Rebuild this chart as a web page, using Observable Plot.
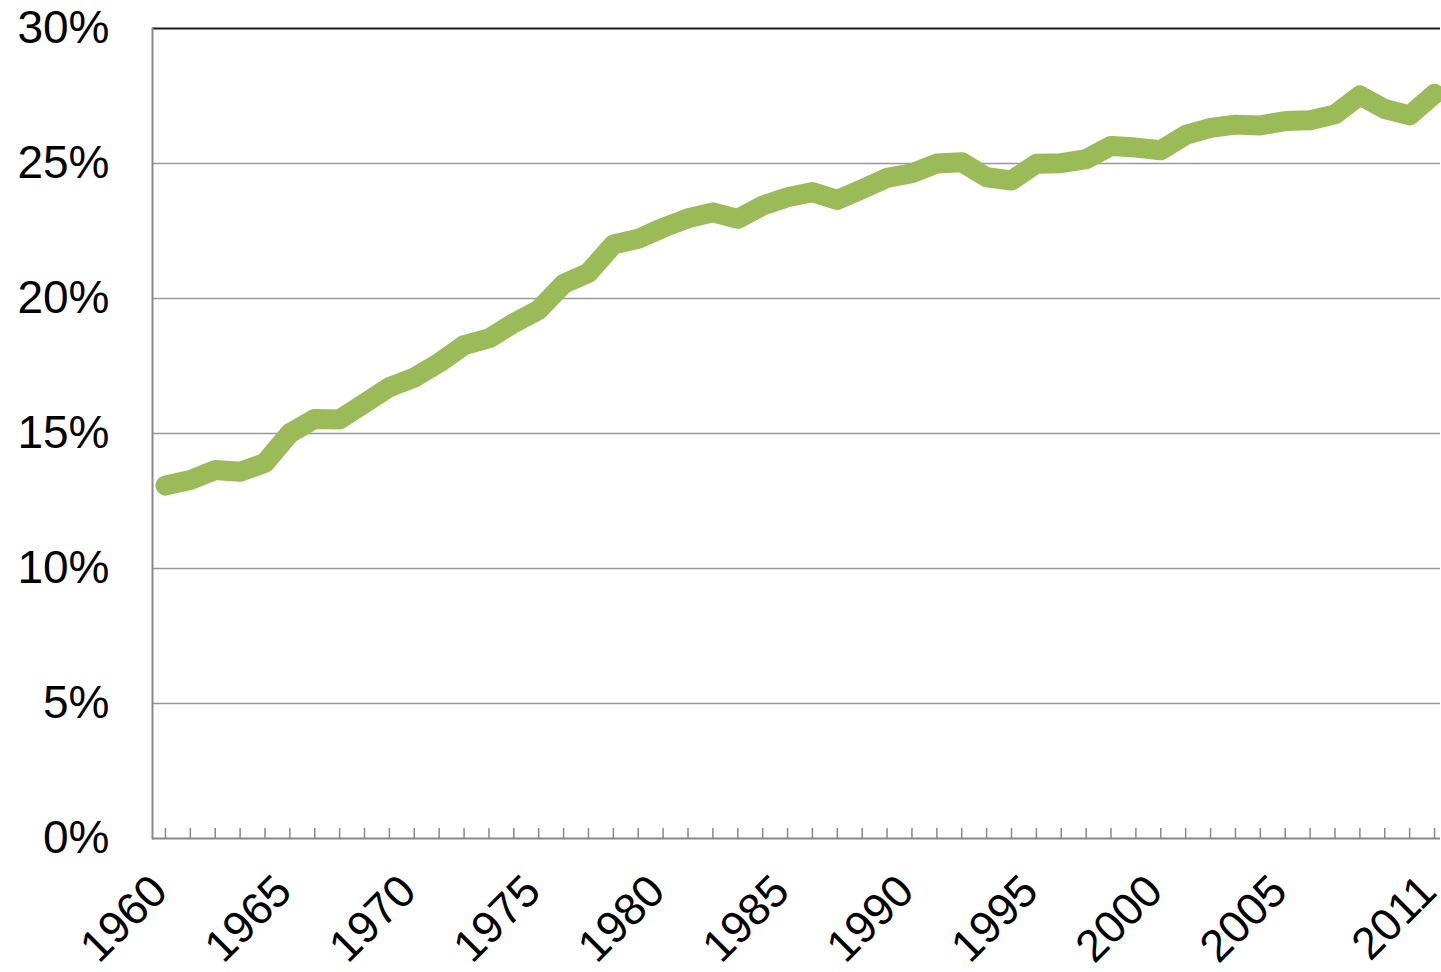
<!DOCTYPE html>
<html>
<head>
<meta charset="utf-8">
<script src="https://cdn.jsdelivr.net/npm/d3@7"></script>
<script src="https://cdn.jsdelivr.net/npm/@observablehq/plot@0.6"></script>
<style>
  html, body { margin: 0; padding: 0; background: #fff; }
  #chart { width: 1441px; height: 972px; overflow: hidden; }
</style>
</head>
<body>
<div id="chart"></div>
<script>
const years = d3.range(1960, 2012);
const values = [
  13.07, 13.28, 13.65, 13.58, 13.91, 15.01, 15.54, 15.52, 16.12, 16.72,
  17.07, 17.62, 18.27, 18.52, 19.09, 19.58, 20.54, 20.95, 22.00, 22.21,
  22.62, 22.97, 23.19, 22.95, 23.44, 23.75, 23.94, 23.65, 24.05, 24.47,
  24.64, 25.00, 25.05, 24.49, 24.37, 24.99, 25.01, 25.16, 25.65, 25.59,
  25.49, 26.06, 26.32, 26.44, 26.41, 26.57, 26.60, 26.82, 27.52, 27.02,
  26.78, 27.58
];
const yTicks = [0, 5, 10, 15, 20, 25, 30];
const xLabelYears = [1960, 1965, 1970, 1975, 1980, 1985, 1990, 1995, 2000, 2005, 2011];

const data = years.map((year, i) => ({year, value: values[i]}));

const chart = Plot.plot({
  width: 1441,
  height: 972,
  marginTop: 28,
  marginBottom: 134,
  marginLeft: 152,
  marginRight: 1,
  style: {fontFamily: "'Liberation Sans', Arial, sans-serif", background: "#fff", color: "#000"},
  x: {domain: [1959.48, 2011.24]},
  y: {domain: [0, 30]},
  marks: [
    Plot.gridY(yTicks.filter(d => d > 0 && d < 30), {stroke: "#999", strokeOpacity: 1, strokeWidth: 1.7}),
    Plot.ruleY([30], {stroke: "#1a1a1a", strokeWidth: 2}),
    Plot.frame({anchor: "left", stroke: "#888", strokeWidth: 2}),
    Plot.ruleY([0], {stroke: "#888", strokeWidth: 2}),
    Plot.axisX({ticks: years, tickSize: 10, text: null, label: null, dy: -10, stroke: "#888", strokeWidth: 1.5}),
    Plot.axisX({ticks: xLabelYears, tickSize: 0, tickRotate: -45, tickPadding: 45, dx: -6, label: null,
                fontSize: 45, tickFormat: d => String(d), fill: "#000"}),
    Plot.axisY({ticks: yTicks, tickSize: 0, tickPadding: 43, fontSize: 46, label: null,
                tickFormat: d => d + "%", fill: "#000"}),
    Plot.line(data, {x: "year", y: "value", stroke: "#9BBB59", strokeWidth: 20,
                     strokeLinecap: "round", strokeLinejoin: "round"})
  ]
});
document.getElementById("chart").appendChild(chart);
</script>
</body>
</html>
